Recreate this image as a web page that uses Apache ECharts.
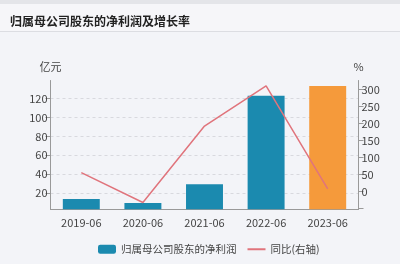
<!DOCTYPE html>
<html><head><meta charset="utf-8">
<script src="https://cdn.jsdelivr.net/npm/echarts@6/dist/echarts.min.js"></script>
<style>html,body{margin:0;padding:0;background:#f3f4f8;}#c{width:400px;height:264px;}</style>
</head><body><div id="c"></div>
<script>
const categories = ['2019-06', '2020-06', '2021-06', '2022-06', '2023-06'];
const profitValues = [13.6, 9.4, 29.2, 123.0, 133.5];
const growthValues = [56, -32, 193, 311, 8];
const titleText = '归属母公司股东的净利润及增长率';
const seriesNames = ['归属母公司股东的净利润', '同比(右轴)'];
const leftAxisName = '亿元';
const rightAxisName = '%';

const font = '"Noto Sans CJK SC", "Noto Sans", sans-serif';
const chart = echarts.init(document.getElementById('c'), null, {renderer: 'canvas'});
chart.setOption({
  backgroundColor: '#f3f4f8',
  animation: false,
  textStyle: {fontFamily: font},
  graphic: [
    {type: 'rect', shape: {x: 0, y: 0, width: 400, height: 4}, style: {fill: '#e4e5e9'}, silent: true, z: -1},
    {type: 'rect', shape: {x: 0, y: 4, width: 400, height: 27}, style: {fill: '#f6f6f9'}, silent: true, z: -1},
    {type: 'rect', shape: {x: 0, y: 31, width: 400, height: 1}, style: {fill: '#dcdde2'}, silent: true, z: -1}
  ],
  title: {
    text: titleText, left: 5, top: 10,
    textStyle: {fontSize: 12, fontWeight: 'bold', color: '#222', fontFamily: font}
  },
  legend: {
    left: 93, top: 239, itemGap: 11, itemWidth: 18, itemHeight: 9,
    textStyle: {fontSize: 10.5, color: '#444', fontFamily: font},
    data: [
      {name: seriesNames[0], icon: 'roundRect'},
      {name: seriesNames[1], icon: 'path://M0,0 L18,0 L18,2 L0,2 Z', itemStyle: {color: '#e0747c'}}
    ]
  },
  grid: {left: 50.5, right: 41.5, top: 80.5, bottom: 54.7, containLabel: false},
  xAxis: {
    type: 'category', data: categories,
    axisLine: {onZero: false, lineStyle: {color: '#999'}},
    axisTick: {alignWithLabel: true, length: 5, lineStyle: {color: '#999'}},
    axisLabel: {fontSize: 11, color: '#444', margin: 8, fontFamily: font}
  },
  yAxis: [
    {
      type: 'value', min: 2.7, max: 139.3, splitNumber: 7,
      name: leftAxisName, nameGap: 8,
      nameTextStyle: {fontSize: 11, color: '#444', align: 'center', fontFamily: font},
      axisLine: {show: true, lineStyle: {color: '#999'}},
      axisTick: {show: true, length: 5, lineStyle: {color: '#999'}},
      axisLabel: {fontSize: 11, color: '#444', margin: 3, showMinLabel: false, showMaxLabel: false, fontFamily: font},
      splitLine: {show: true, showMinLine: false, showMaxLine: false, lineStyle: {color: '#d8d9de', type: [3, 3]}}
    },
    {
      type: 'value', min: -52, max: 327, splitNumber: 7,
      name: rightAxisName, nameGap: 8,
      nameTextStyle: {fontSize: 11, color: '#444', align: 'center', fontFamily: font},
      axisLine: {show: true, lineStyle: {color: '#999'}},
      axisTick: {show: true, length: 5, lineStyle: {color: '#999'}},
      axisLabel: {fontSize: 11, color: '#444', margin: 3, showMinLabel: false, showMaxLabel: false, fontFamily: font,
        formatter: v => (v < 0 ? '' : String(v))},
      splitLine: {show: false}
    }
  ],
  series: [
    {
      name: seriesNames[0], type: 'bar', yAxisIndex: 0, barWidth: '60%',
      data: profitValues.map((v, i) => ({value: v, itemStyle: {color: i === profitValues.length - 1 ? '#f59a3b' : '#1b8aaf'}})),
      itemStyle: {color: '#1b8aaf'}, z: 2
    },
    {
      name: seriesNames[1], type: 'line', yAxisIndex: 1, data: growthValues,
      symbol: 'none', lineStyle: {color: '#e0747c', width: 1.5}, itemStyle: {color: '#e0747c'}, z: 3
    }
  ]
});
</script></body></html>
